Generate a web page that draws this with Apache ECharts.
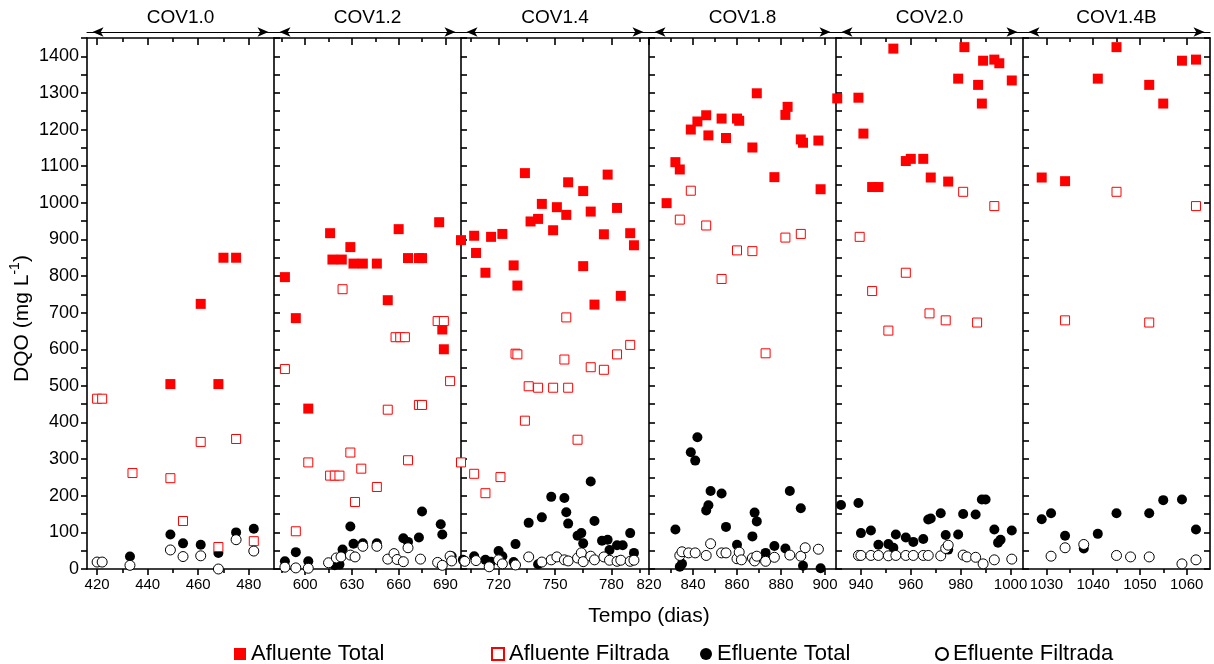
<!DOCTYPE html>
<html><head><meta charset="utf-8">
<script src="https://cdn.jsdelivr.net/npm/echarts@6/dist/echarts.min.js"></script>
<style>html,body{margin:0;padding:0;background:#fff}#c{width:1214px;height:664px}</style>
</head><body><div id="c"></div>
<script>
// ---- data ----
const panelNames = ['COV1.0', 'COV1.2', 'COV1.4', 'COV1.8', 'COV2.0', 'COV1.4B'];
const xMin = [416, 580, 700, 820, 930, 1025];
const xMax = [490, 700, 800, 905, 1005, 1065];
const xLabels = [[420, 440, 460, 480], [600, 630, 660, 690], [720, 750, 780], [820, 840, 860, 880, 900], [940, 960, 980, 1000], [1030, 1040, 1050, 1060]];
const xMinor = [[430, 450, 470], [585, 615, 645, 675], [705, 735, 765, 795], [830, 850, 870, 890], [950, 970, 990], [1035, 1045, 1055]];
const seriesNames = ['Afluente Total', 'Afluente Filtrada', 'Efluente Total', 'Efluente Filtrada'];

const afluenteTotal = [
  [[449,505],[461,724],[468,505],[470,850],[475,850]],
  [[587,797],[594,685],[602,438],[616,917],[617.5,845],[623.5,845],[629,879],[631,834],[637,834],[646,834],[653,734],[660,928],[666,849],[673,849],[675,849],[686,947],[688,654],[689,600]],
  [[700,898],[707,910],[708,863],[713,809],[716,907],[722,915],[728,829],[730,774],[734,1081],[737,949],[741,956],[743,997],[749,925],[751,988],[756,967],[757,1056],[765,827],[765,1032],[769,976],[771,722],[776,914],[778,1077],[783,986],[785,746],[790,917],[792,884]],
  [[828,999],[832,1111],[834,1091],[839,1200],[842,1222],[846,1239],[847,1184],[853,1230],[855,1177],[860,1230],[861,1224],[867,1151],[869,1299],[877,1070],[882,1240],[883,1262],[889,1173],[890,1164],[897,1170],[898,1037]],
  [[930.5,1285],[939,1287],[941,1189],[944.5,1043],[947,1043],[953,1421],[958,1114],[960,1120],[965,1120],[968,1069],[975,1058],[979,1339],[981.5,1425],[987,1322],[988.5,1271],[989,1388],[993.5,1391],[995.5,1381],[1000.5,1334]],
  [[1029,1069],[1034,1059],[1041,1339],[1045,1425],[1052,1322],[1055,1271],[1059,1388],[1062,1391]]
];
const afluenteFiltrada = [
  [[420,465],[422,465],[434,262],[449,248],[454,131],[461,347],[468,60],[475,355],[482,76]],
  [[587,546],[594,103],[602,291],[616,255],[619,255],[622,255],[624,764],[629,318],[632,183],[636,274],[646,224],[653,435],[658,633],[661,633],[664,633],[666,297],[673,448],[675,448],[685,677],[689,677],[693,513]],
  [[700,291],[707,260],[713,207],[721,251],[729,588],[730,586],[734,405],[736,499],[741,495],[749,495],[755,572],[756,687],[757,495],[762,353],[769,551],[776,544],[783,586],[790,612]],
  [[834,954],[839,1033],[846,938],[853,792],[860,870],[867,868],[873,589],[882,905],[889,915]],
  [[939.5,907],[944.5,759],[951,651],[958,809],[967.5,698],[974,679],[981,1030],[986.6,673],[993.5,991]],
  [[1034,679],[1045,1030],[1052,673],[1062,991]]
];
const efluenteTotal = [
  [[433,34],[449,94],[454,70],[461,66],[468,44],[475,100],[482,110]],
  [[587,21],[594,46],[602,21],[619,10],[622,12],[624,53],[629,116],[631,69],[637,70],[646,70],[663,84],[666,74],[673,86],[675,157],[687,122],[688,94],[694,35]],
  [[701,25],[707,35],[713,25],[716,20],[720,49],[722,35],[728,19],[729,68],[736,126],[741,13],[743,141],[748,197],[755,194],[756,155],[757,124],[762,91],[764,98],[765,70],[769,239],[771,131],[775,77],[778,80],[779,52],[783,65],[786,65],[790,98],[792,44]],
  [[832,108],[834,6],[835,14],[839,319],[841,296],[842,360],[846,160],[847,174],[848,213],[853,206],[855,115],[860,66],[867,89],[868,154],[869,130],[873,44],[877,63],[882,56],[884,213],[889,166],[890,9],[898,2]],
  [[932,175],[939,180],[940,98],[944,105],[947,66],[951,68],[953,58],[954,94],[958,86],[961,74],[965,82],[967,135],[968,138],[972,152],[974,93],[975,53],[979,94],[981,150],[986,149],[988.5,190],[990,190],[993.5,108],[995,72],[996,80],[1000.5,105]],
  [[1029,136],[1031,152],[1034,91],[1038,56],[1041,96],[1045,152],[1052,152],[1055,188],[1059,190],[1062,108]]
];
const efluenteFiltrada = [
  [[420,19],[422,19],[433,10],[449,52],[454,34],[461,36],[468,0],[475,80],[482,49]],
  [[587,5],[594,3],[602,2],[615,17],[620,30],[623,33],[629,38],[632,33],[637,62],[646,62],[653,27],[657,42],[659,26],[663,20],[666,58],[674,27],[685,18],[688,10],[693,35],[694,22]],
  [[702,21],[708,23],[715,6],[720,25],[722,14],[729,11],[736,33],[743,19],[748,25],[751,33],[755,25],[757,22],[762,30],[764,44],[765,20],[769,35],[771,25],[776,33],[779,24],[783,21],[785,24],[790,21],[792,24]],
  [[834,37],[835,47],[838,44],[841,44],[846,37],[848,69],[853,44],[855,44],[860,28],[861,46],[862,25],[867,30],[868,22],[869,35],[873,21],[877,32],[884,38],[889,35],[891,58],[897,54]],
  [[939,37],[940,37],[944,37],[947,37],[951,36],[954,37],[958,37],[961,37],[965,37],[967,37],[972,36],[974,56],[975,65],[981,38],[982.5,33],[986,32],[989,14],[993.5,25],[1000.5,27]],
  [[1031,35],[1034,58],[1038,67],[1045,37],[1048,33],[1052,33],[1059,14],[1062,25]]
];

// ---- layout / style ----
const FONT = '"Liberation Sans", Arial, sans-serif';
const edges = [87, 274, 461, 649, 836, 1023, 1210];
const gTop = 38, gBottom = 569;
const lineW = 1.6;
const lineStyle = { color: '#000', width: lineW };

const styles = {
  'Afluente Total':    { symbol: 'rect',   symbolSize: 10, itemStyle: { color: '#ff0000', opacity: 1 } },
  'Afluente Filtrada': { symbol: 'rect',   symbolSize: 9,  itemStyle: { color: '#ffffff', borderColor: '#ff0000', borderWidth: 1, opacity: 1 } },
  'Efluente Total':    { symbol: 'circle', symbolSize: 10, itemStyle: { color: '#000000', opacity: 1 } },
  'Efluente Filtrada': { symbol: 'circle', symbolSize: 10, itemStyle: { color: '#ffffff', borderColor: '#000000', borderWidth: 1, opacity: 1 } }
};
const dataBy = {
  'Afluente Total': afluenteTotal,
  'Afluente Filtrada': afluenteFiltrada,
  'Efluente Total': efluenteTotal,
  'Efluente Filtrada': efluenteFiltrada
};
const drawOrder = ['Efluente Total', 'Afluente Total', 'Afluente Filtrada', 'Efluente Filtrada'];
const plain = function (v) { return String(v); };

const grid = [], xAxis = [], yAxis = [], series = [];
const AX_PER = 5;
for (let i = 0; i < 6; i++) {
  grid.push({ left: edges[i], width: edges[i + 1] - edges[i], top: gTop, height: gBottom - gTop });
  const base = { type: 'value', gridIndex: i, min: xMin[i], max: xMax[i], splitLine: { show: false } };
  xAxis.push(Object.assign({}, base, {
    position: 'bottom',
    axisLine: { show: true, lineStyle: lineStyle },
    axisTick: { show: true, inside: false, length: 6, customValues: xLabels[i], lineStyle: lineStyle },
    axisLabel: { show: true, customValues: xLabels[i], formatter: plain, fontSize: 15, color: '#000', fontFamily: FONT, margin: 8 }
  }));
  xAxis.push(Object.assign({}, base, {
    position: 'bottom',
    axisLine: { show: false },
    axisTick: { show: true, inside: false, length: 4, customValues: xMinor[i], lineStyle: lineStyle },
    axisLabel: { show: false }
  }));
  xAxis.push(Object.assign({}, base, {
    position: 'top',
    axisLine: { show: true, lineStyle: lineStyle },
    axisTick: { show: true, inside: true, length: 7, customValues: xLabels[i], lineStyle: lineStyle },
    axisLabel: { show: false }
  }));
  xAxis.push(Object.assign({}, base, {
    position: 'top',
    axisLine: { show: false },
    axisTick: { show: true, inside: true, length: 4, customValues: xMinor[i], lineStyle: lineStyle },
    axisLabel: { show: false }
  }));
  xAxis.push(Object.assign({}, base, {
    position: 'top', offset: 6,
    axisLine: { show: true, symbol: ['arrow', 'arrow'], symbolSize: [7, 11], symbolOffset: [5.5, -5.5], lineStyle: { color: '#000', width: 1 } },
    axisTick: { show: false }, axisLabel: { show: false },
    name: panelNames[i], nameLocation: 'middle', nameGap: 5,
    nameTextStyle: { fontSize: 19, color: '#000', fontFamily: FONT }
  }));
  const y = {
    type: 'value', gridIndex: i, min: 0, max: 1450, interval: 50, position: 'left',
    axisLine: { show: true, lineStyle: lineStyle },
    axisTick: { show: true, inside: i > 0, length: 6, lineStyle: lineStyle },
    axisLabel: {
      show: i === 0, fontSize: 18, color: '#000', fontFamily: FONT, margin: 8,
      formatter: function (v) { return (v % 100 === 0 && v <= 1400) ? String(v) : ''; }
    },
    splitLine: { show: false }
  };
  if (i === 0) {
    y.name = '{a|DQO (mg L}{s|-1}{a|)}';
    y.nameLocation = 'middle';
    y.nameRotate = 90;
    y.nameGap = 54;
    y.nameTextStyle = {
      padding: [0, 30, 0, 0],
      rich: {
        a: { fontSize: 21, fontFamily: FONT, color: '#000', lineHeight: 25, verticalAlign: 'bottom' },
        s: { fontSize: 14, fontFamily: FONT, color: '#000', lineHeight: 25, verticalAlign: 'top' }
      }
    };
  }
  yAxis.push(y);
  drawOrder.forEach(function (nm) {
    const st = styles[nm];
    series.push({
      type: 'scatter', name: nm, xAxisIndex: i * AX_PER, yAxisIndex: i,
      symbol: st.symbol, symbolSize: st.symbolSize, itemStyle: st.itemStyle,
      data: dataBy[nm][i], clip: false, animation: false,
      emphasis: { disabled: true }
    });
  });
}
yAxis.push({
  type: 'value', gridIndex: 5, min: 0, max: 1450, interval: 50, position: 'right',
  axisLine: { show: true, lineStyle: lineStyle },
  axisTick: { show: true, inside: true, length: 6, lineStyle: lineStyle },
  axisLabel: { show: false }, splitLine: { show: false }
});

// one legend block per entry, placed like the original's legend columns
const legendLeft = [229, 486, 695, 930];
const legendIcon = ['rect', 'rect', 'circle', 'circle'];
const legend = seriesNames.map(function (nm, k) {
  return {
    data: [{ name: nm, icon: legendIcon[k] }],
    selectedMode: false,
    left: legendLeft[k], top: 638,
    itemWidth: 12, itemHeight: 12,
    textStyle: { fontSize: 22, color: '#000', fontFamily: FONT }
  };
});

const chart = echarts.init(document.getElementById('c'), null, { renderer: 'canvas' });
chart.setOption({
  animation: false,
  backgroundColor: '#ffffff',
  textStyle: { fontFamily: FONT },
  grid: grid, xAxis: xAxis, yAxis: yAxis, series: series,
  legend: legend,
  graphic: [{
    type: 'text', x: 649, y: 616,
    style: { text: 'Tempo (dias)', fontSize: 21, fontFamily: FONT, fill: '#000', align: 'center', verticalAlign: 'middle' }
  }]
});
</script></body></html>
